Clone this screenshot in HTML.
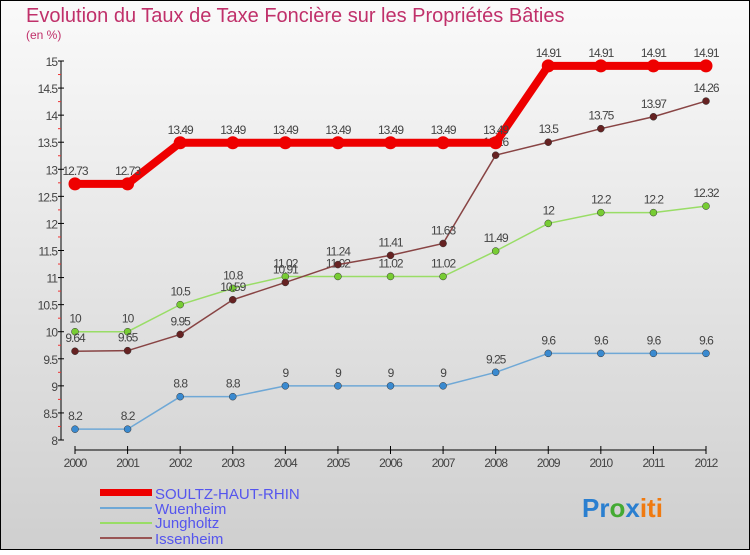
<!DOCTYPE html>
<html><head><meta charset="utf-8"><style>
body{margin:0;width:750px;height:550px;overflow:hidden;font-family:"Liberation Sans",sans-serif}
svg text{font-family:"Liberation Sans",sans-serif}
</style></head><body>
<svg id="c" width="750" height="550" xmlns="http://www.w3.org/2000/svg">
<defs><linearGradient id="bg" x1="0" y1="0" x2="0" y2="1"><stop offset="0" stop-color="#fafafa"/><stop offset="1" stop-color="#cfcfcf"/></linearGradient></defs>
<rect x="0.5" y="0.5" width="749" height="549" fill="url(#bg)" stroke="#000"/>
<text x="26" y="22" font-size="20" fill="#c0306a">Evolution du Taux de Taxe Foncière sur les Propriétés Bâties</text>
<text x="26" y="39" font-size="12" fill="#c0306a">(en %)</text>
<g id="axes"></g><g id="series"></g>
<g>
<rect x="100" y="489" width="52" height="7" fill="#e00"/>
<text x="155" y="499" font-size="15" fill="#5555ee">SOULTZ-HAUT-RHIN</text>
<line x1="100" y1="508" x2="152" y2="508" stroke="#6fa8d6" stroke-width="2"/>
<text x="155" y="514" font-size="15" fill="#5555ee">Wuenheim</text>
<line x1="100" y1="523" x2="152" y2="523" stroke="#99dd66" stroke-width="2"/>
<text x="155" y="528" font-size="15" fill="#5555ee">Jungholtz</text>
<line x1="100" y1="538" x2="152" y2="538" stroke="#995555" stroke-width="2"/>
<text x="155" y="544" font-size="15" fill="#5555ee">Issenheim</text>
</g>
<text x="582" y="517" font-size="26" font-weight="bold"><tspan fill="#2a7fd0">Pr</tspan><tspan fill="#44aa33">o</tspan><tspan fill="#2a7fd0">x</tspan><tspan fill="#f07a10">iti</tspan></text>
</svg>
<script>
const years=[2000,2001,2002,2003,2004,2005,2006,2007,2008,2009,2010,2011,2012];
const soultz=[12.73,12.73,13.49,13.49,13.49,13.49,13.49,13.49,13.49,14.91,14.91,14.91,14.91];
const wuenheim=[8.2,8.2,8.8,8.8,9,9,9,9,9.25,9.6,9.6,9.6,9.6];
const jungholtz=[10,10,10.5,10.8,11.02,11.02,11.02,11.02,11.49,12,12.2,12.2,12.32];
const issenheim=[9.64,9.65,9.95,10.59,10.91,11.24,11.41,11.63,13.26,13.5,13.75,13.97,14.26];
const yTicks=[8,8.5,9,9.5,10,10.5,11,11.5,12,12.5,13,13.5,14,14.5,15];
const NS="http://www.w3.org/2000/svg";
const X=i=>75+i*(706-75)/12;
const Y=v=>440-(v-8)*(440-61)/7;
function mk(t,a,p){const e=document.createElementNS(NS,t);for(const k in a)e.setAttribute(k,a[k]);p.appendChild(e);return e;}
const ax=document.getElementById('axes');
const ya=mk('line',{x1:61,y1:61,x2:61,y2:440,stroke:'#000'},ax);


const xa=mk('line',{x1:75,y1:450,x2:706,y2:450,stroke:'#000'},ax);


yTicks.forEach(v=>{
  mk('line',{x1:58,y1:Y(v),x2:64,y2:Y(v),stroke:'#000'},ax);
  mk('line',{x1:58,y1:Y(v+0.25),x2:61,y2:Y(v+0.25),stroke:v<15?'#e33':'none'},ax);
  const t=mk('text',{x:57,y:Y(v)+5,'font-size':12,fill:'#444','text-anchor':'end','letter-spacing':'-1'},ax);
  t.textContent=v;
  
  
});
years.forEach((yr,i)=>{
  mk('line',{x1:X(i),y1:446,x2:X(i),y2:454,stroke:'#000'},ax);
  const t=mk('text',{x:X(i),y:467,'font-size':12,fill:'#444','text-anchor':'middle','letter-spacing':'-1'},ax);
  t.textContent=yr;
  
  
});
const sg=document.getElementById('series');
function draw(data,name,color,dot,w,r){
  const g=mk('g',{},sg);
  
  
  const l=mk('polyline',{points:data.map((v,i)=>X(i)+','+Y(v)).join(' '),fill:'none',stroke:color,'stroke-width':w},g);
  
  
  data.forEach((v,i)=>{
    const c=mk('circle',{cx:X(i),cy:Y(v),r:r,fill:dot,stroke:w>4?'none':'#333','stroke-width':0.5},g);
    
    
    const t=mk('text',{x:X(i),y:Y(v)-9,'font-size':12,fill:'#444','text-anchor':'middle','letter-spacing':'-1'},g);
    t.textContent=v;
    
    
  });
}
draw(wuenheim,'wuenheim','#6fa8d6','#3a8ad0',1.5,3.5);
draw(jungholtz,'jungholtz','#99dd66','#77cc33',1.5,3.5);
draw(issenheim,'issenheim','#884444','#662222',1.5,3.5);
draw(soultz,'soultz','#ee0000','#ee0000',8,6.5);
</script>
</body></html>
